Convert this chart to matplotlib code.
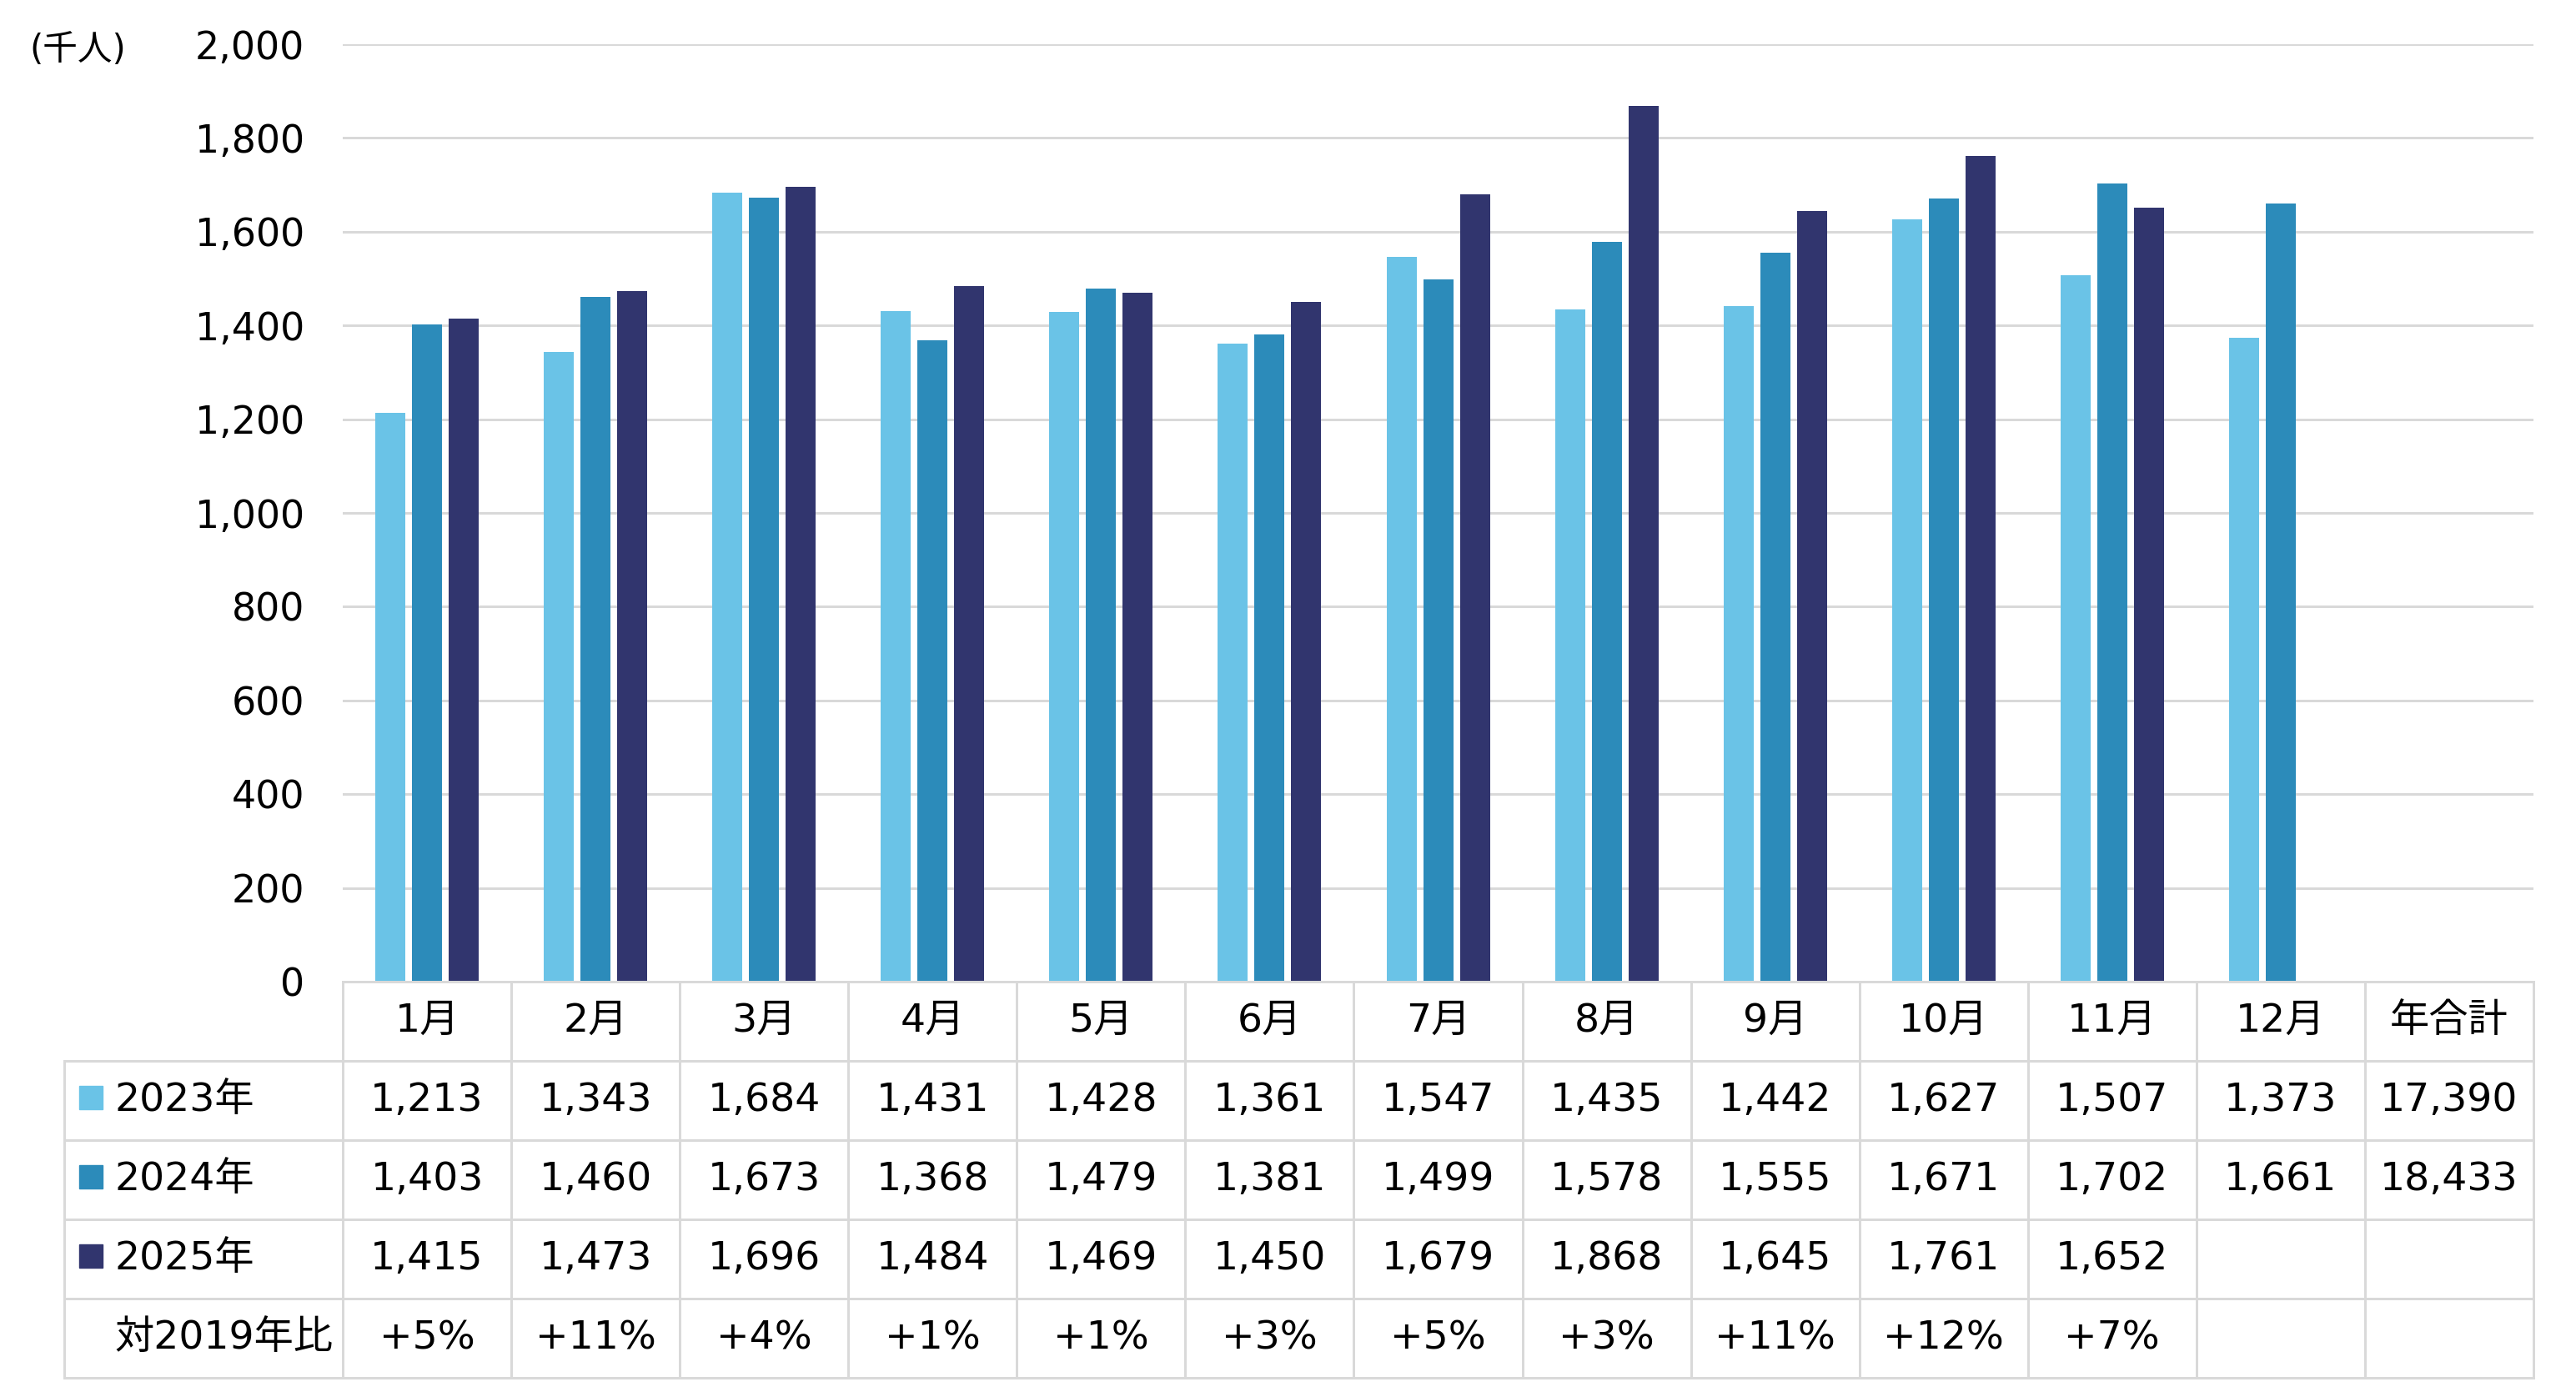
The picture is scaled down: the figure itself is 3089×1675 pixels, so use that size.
import matplotlib
matplotlib.use('Agg')
import matplotlib.pyplot as plt
import numpy as np

# 数字は Verdana 風 (DejaVu)、漢字は Noto CJK にフォールバック
plt.rcParams['font.family'] = ['DejaVu Sans', 'Noto Sans CJK JP']

# ─── データ ────────────────────────────────────────────
months = ['1月', '2月', '3月', '4月', '5月', '6月', '7月', '8月', '9月', '10月', '11月', '12月']
total_label = '年合計'
series_names = ['2023年', '2024年', '2025年']
v2023 = [1213, 1343, 1684, 1431, 1428, 1361, 1547, 1435, 1442, 1627, 1507, 1373]
v2024 = [1403, 1460, 1673, 1368, 1479, 1381, 1499, 1578, 1555, 1671, 1702, 1661]
v2025 = [1415, 1473, 1696, 1484, 1469, 1450, 1679, 1868, 1645, 1761, 1652, np.nan]
totals = ['17,390', '18,433', '']
ratio_label = '対2019年比'
ratio_2019 = ['+5%', '+11%', '+4%', '+1%', '+1%', '+3%', '+5%', '+3%', '+11%', '+12%', '+7%', '', '']

colors = ['#6AC3E7', '#2C8BBA', '#31356E']
grid_c = '#D9D9D9'

W, H = 3089, 1675
left, right, top, zero, tbot, tleft = 411, 3038, 53, 1177, 1652, 77
ncol = 13
colw = (right - left) / ncol

fig = plt.figure(figsize=(W / 100, H / 100), dpi=100)

# ─── 棒グラフ ─────────────────────────────────────────
ax = fig.add_axes([left / W, 1 - zero / H, (right - left) / W, (zero - top) / H])
x = np.arange(len(months))
bw = 36 / colw
step = 44 / colw
for k, vals in enumerate([v2023, v2024, v2025]):
    ax.bar(x + (k - 1) * step, vals, width=bw, color=colors[k], zorder=3)

ax.set_xlim(-0.5, ncol - 0.5)
ax.set_ylim(0, 2000)
ax.set_yticks(np.arange(0, 2001, 200))
ax.set_yticklabels([f'{v:,}' for v in range(0, 2001, 200)])
ax.yaxis.grid(True, color=grid_c, linewidth=2.16, zorder=0)
ax.set_xticks([])
ax.tick_params(axis='y', length=0, pad=33, labelsize=33)
for s in ax.spines.values():
    s.set_visible(False)

fig.text(35 / W, 1 - 60 / H, '(千人)', fontsize=30, ha='left', va='center')

# ─── データテーブル ───────────────────────────────────
lab_w = (left - tleft) / colw
ta = fig.add_axes([tleft / W, 1 - tbot / H, (right - tleft) / W, (tbot - zero) / H])
x0 = -0.5 - lab_w
ta.set_xlim(x0, ncol - 0.5)
ta.set_ylim(5, 0)
ta.axis('off')

lw = 2.16
ta.plot([-0.5, ncol - 0.5], [0, 0], color=grid_c, lw=lw, solid_capstyle='projecting', clip_on=False)
for r in range(1, 6):
    ta.plot([x0, ncol - 0.5], [r, r], color=grid_c, lw=lw, solid_capstyle='projecting', clip_on=False)
for c in range(ncol + 1):
    ta.plot([-0.5 + c, -0.5 + c], [0, 5], color=grid_c, lw=lw, solid_capstyle='projecting', clip_on=False)
ta.plot([x0, x0], [1, 5], color=grid_c, lw=lw, solid_capstyle='projecting', clip_on=False)

fs = 34
for c, m in enumerate(months + [total_label]):
    ta.text(c, 0.5, m, fontsize=fs, ha='center', va='center')

txt_x = x0 + (137 - tleft) / colw
sq = 28 / colw
for r, (name, vals) in enumerate(zip(series_names, [v2023, v2024, v2025])):
    yc = r + 1.5
    ta.add_patch(plt.Rectangle((x0 + (95 - tleft) / colw, yc - 0.18), sq, 0.29,
                               color=colors[r], clip_on=False))
    ta.text(txt_x, yc, name, fontsize=fs, ha='left', va='center')
    for c, v in enumerate(vals):
        if not np.isnan(v):
            ta.text(c, yc, f'{int(v):,}', fontsize=fs, ha='center', va='center')
    ta.text(12, yc, totals[r], fontsize=fs, ha='center', va='center')

ta.text(txt_x, 4.5, ratio_label, fontsize=fs, ha='left', va='center')
for c, s in enumerate(ratio_2019):
    ta.text(c, 4.5, s, fontsize=fs, ha='center', va='center')

fig.savefig('out.png', dpi=100, facecolor='white')
